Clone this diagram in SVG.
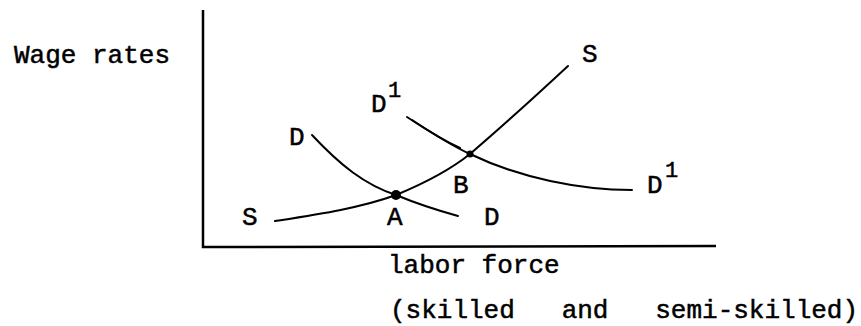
<svg xmlns="http://www.w3.org/2000/svg" width="861" height="326" viewBox="0 0 861 326">
<style>
text{font-family:"Liberation Mono","Courier New",monospace;font-size:26px;fill:#000;stroke:#000;stroke-width:0.5}
.sup{font-size:22px}
.ax{stroke:#000;stroke-width:2.5;fill:none}
.cv{stroke:#000;stroke-width:2;fill:none;stroke-linecap:round}
</style>
<rect width="861" height="326" fill="#fff"/>
<g id="axes">
<path class="ax" d="M203,10 L203,247 L716,246"/>
</g>
<g id="connectors">
<path id="supply" class="cv" d="M275,221 C320,214 360,208 396,195 C425,183 450,170 470,154 C505,124 540,92 568,66"/>
<path id="demand" class="cv" d="M312,135 C340,165 365,185 396,195 C420,205 440,211 458,216"/>
<path id="demand1" class="cv" d="M407,117 C430,132 450,145 470,154 C520,178 580,190 632,190"/>
<path class="cv" stroke-width="3.5" d="M412,120 C430,132 445,141 460,148"/>
</g>
<g id="pointA"><circle cx="396" cy="195" r="5"/><text x="387" y="225">A</text></g>
<g id="pointB"><circle cx="470" cy="154" r="3.5"/><text x="453" y="193">B</text></g>
<g id="labels">
<text x="14" y="63">Wage rates</text>
<text x="242" y="225">S</text>
<text x="582" y="62">S</text>
<text x="289" y="145">D</text>
<text x="484" y="225">D</text>
<text x="371" y="112">D</text><text class="sup" x="388" y="97">1</text>
<text x="647" y="193">D</text><text class="sup" x="665" y="177">1</text>
<text x="388" y="273">labor force</text>
<text x="390" y="318" xml:space="preserve">(skilled   and   semi-skilled)</text>
</g>
</svg>
